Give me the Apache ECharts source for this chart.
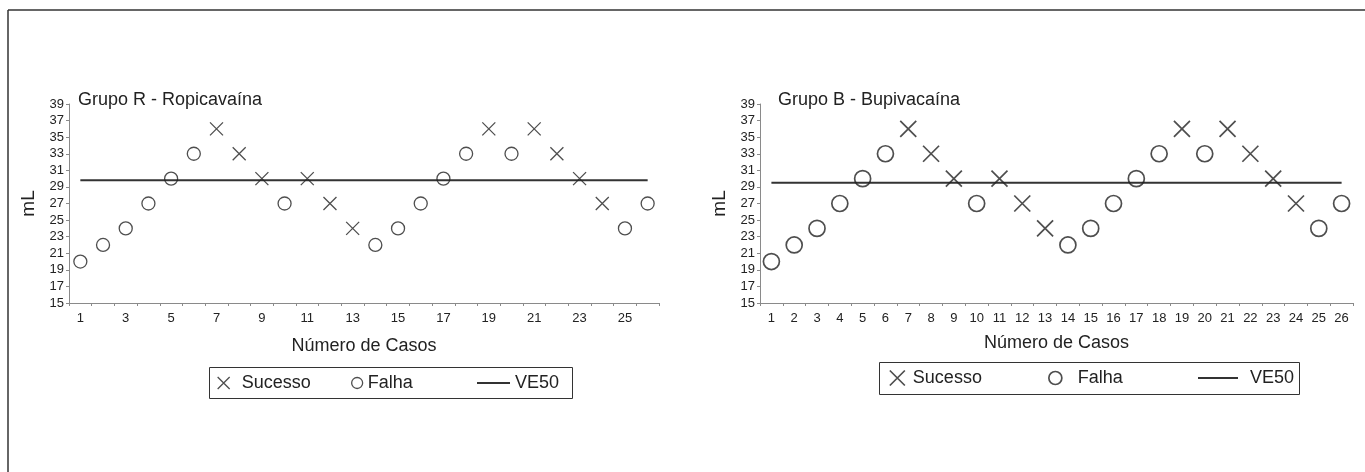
<!DOCTYPE html>
<html>
<head>
<meta charset="utf-8">
<script src="https://cdn.jsdelivr.net/npm/echarts@6/dist/echarts.min.js"></script>
<style>
  html, body { margin: 0; padding: 0; background: #fff; }
  #chart { width: 1365px; height: 472px; }
</style>
</head>
<body>
<div id="chart"></div>
<script>
const cases = ['1', '2', '3', '4', '5', '6', '7', '8', '9', '10', '11', '12', '13',
  '14', '15', '16', '17', '18', '19', '20', '21', '22', '23', '24', '25', '26'];

// S = sucesso, F = falha
const groupRDoses = [20, 22, 24, 27, 30, 33, 36, 33, 30, 27, 30, 27, 24, 22, 24, 27, 30, 33, 36, 33, 36, 33, 30, 27, 24, 27];
const groupROutcome = ['F', 'F', 'F', 'F', 'F', 'F', 'S', 'S', 'S', 'F', 'S', 'S', 'S', 'F', 'F', 'F', 'F', 'F', 'S', 'F', 'S', 'S', 'S', 'S', 'F', 'F'];
const groupRVE50 = 29.8;

const groupBDoses = [20, 22, 24, 27, 30, 33, 36, 33, 30, 27, 30, 27, 24, 22, 24, 27, 30, 33, 36, 33, 36, 33, 30, 27, 24, 27];
const groupBOutcome = ['F', 'F', 'F', 'F', 'F', 'F', 'S', 'S', 'S', 'F', 'S', 'S', 'S', 'F', 'F', 'F', 'F', 'F', 'S', 'F', 'S', 'S', 'S', 'S', 'F', 'F'];
const groupBVE50 = 29.5;

const yMin = 15;
const yMax = 39;
const yStep = 2;

const FONT = "'Liberation Sans', Arial, sans-serif";
const INK = '#222';
const AXIS = '#8a8a8a';
const CROSS = 'path://M0,0L10,10M10,0L0,10';

const pick = (doses, outcome, key) => doses.map((d, i) => (outcome[i] === key ? d : '-'));

const chart = echarts.init(document.getElementById('chart'));

function axes(idx, labelInterval) {
  const x = {
    type: 'category',
    gridIndex: idx,
    data: cases,
    boundaryGap: true,
    name: 'Número de Casos',
    nameLocation: 'middle',
    nameGap: idx === 0 ? 34 : 31,
    nameTextStyle: { color: INK, fontSize: 18, fontFamily: FONT },
    axisLine: { lineStyle: { color: AXIS, width: 1 } },
    axisTick: { show: true, interval: 0, length: 3, alignWithLabel: false, lineStyle: { color: AXIS } },
    axisLabel: { interval: labelInterval, color: INK, fontSize: 13, fontFamily: FONT, margin: 9 },
    splitLine: { show: false },
  };
  const y = {
    type: 'value',
    gridIndex: idx,
    min: yMin,
    max: yMax,
    interval: yStep,
    name: 'mL',
    nameLocation: 'middle',
    nameGap: 31,
    nameTextStyle: { color: INK, fontSize: 19, fontFamily: FONT },
    axisLine: { show: true, lineStyle: { color: AXIS, width: 1 } },
    axisTick: { show: true, length: 3, lineStyle: { color: AXIS } },
    axisLabel: { color: INK, fontSize: 13, fontFamily: FONT, margin: 5 },
    splitLine: { show: false },
  };
  return { x, y };
}

function seriesFor(idx, doses, outcome, ve50, size, stroke) {
  return [
    {
      name: 'Sucesso',
      type: 'scatter',
      xAxisIndex: idx,
      yAxisIndex: idx,
      symbol: CROSS,
      symbolSize: size,
      data: pick(doses, outcome, 'S'),
      itemStyle: { color: 'rgba(0,0,0,0)', borderColor: INK, borderWidth: stroke },
      z: 3,
    },
    {
      name: 'Falha',
      type: 'scatter',
      xAxisIndex: idx,
      yAxisIndex: idx,
      symbol: 'circle',
      symbolSize: size,
      data: pick(doses, outcome, 'F'),
      itemStyle: { color: 'rgba(0,0,0,0)', borderColor: INK, borderWidth: stroke },
      z: 3,
    },
    {
      name: 'VE50',
      type: 'line',
      xAxisIndex: idx,
      yAxisIndex: idx,
      symbol: 'none',
      data: cases.map(() => ve50),
      lineStyle: { color: '#333', width: 2 },
      itemStyle: { color: '#333' },
      z: 2,
    },
  ];
}

// one legend per entry so every icon and label can sit where the original has it
function legendItem(name, left, top, w, h, gap, stroke) {
  const isLine = name === 'VE50';
  return {
    data: [isLine ? { name, icon: 'rect' } : name],
    left,
    top,
    orient: 'horizontal',
    padding: 0,
    itemWidth: w,
    itemHeight: isLine ? 2 : h,
    selectedMode: false,
    textStyle: { color: INK, fontSize: 18, fontFamily: FONT, lineHeight: 20, padding: [0, 0, 0, gap] },
    itemStyle: isLine
      ? { color: '#333', borderWidth: 0 }
      : { color: 'rgba(0,0,0,0)', borderColor: INK, borderWidth: stroke },
  };
}

const a0 = axes(0, 1);
const a1 = axes(1, 0);

const option = {
  animation: false,
  backgroundColor: '#fff',
  title: [
    { text: 'Grupo R - Ropicavaína', left: 78, top: 91, padding: 0,
      textStyle: { color: INK, fontSize: 18, fontWeight: 'normal', fontFamily: FONT } },
    { text: 'Grupo B - Bupivacaína', left: 778, top: 91, padding: 0,
      textStyle: { color: INK, fontSize: 18, fontWeight: 'normal', fontFamily: FONT } },
  ],
  grid: [
    { left: 69, right: 1365 - 659, top: 104, bottom: 472 - 303, containLabel: false },
    { left: 760, right: 1365 - 1353, top: 104, bottom: 472 - 303, containLabel: false },
  ],
  xAxis: [a0.x, a1.x],
  yAxis: [a0.y, a1.y],
  legend: [
    legendItem('Sucesso', 217, 373, 12, 12, 7, 1.3),
    legendItem('Falha', 351, 373, 11, 11, 0, 1.3),
    legendItem('VE50', 477, 373, 33, 2, 0),
    legendItem('Sucesso', 889, 368, 15, 15, 3, 1.7),
    legendItem('Falha', 1048, 368, 13, 13, 11, 1.7),
    legendItem('VE50', 1198, 368, 40, 2, 7),
  ],
  graphic: [
    { type: 'line', shape: { x1: 8, y1: 10, x2: 1365, y2: 10 }, style: { stroke: '#333', lineWidth: 1.5 } },
    { type: 'line', shape: { x1: 8, y1: 10, x2: 8, y2: 472 }, style: { stroke: '#333', lineWidth: 1.5 } },
    { type: 'rect', shape: { x: 209.5, y: 367.5, width: 363, height: 31 }, style: { fill: 'none', stroke: '#333', lineWidth: 1 } },
    { type: 'rect', shape: { x: 879.5, y: 362.5, width: 420, height: 32 }, style: { fill: 'none', stroke: '#333', lineWidth: 1 } },
  ],
  series: [
    ...seriesFor(0, groupRDoses, groupROutcome, groupRVE50, 13, 1.3),
    ...seriesFor(1, groupBDoses, groupBOutcome, groupBVE50, 16, 1.7),
  ],
};

chart.setOption(option);
window.addEventListener('resize', () => chart.resize());
</script>
</body>
</html>
